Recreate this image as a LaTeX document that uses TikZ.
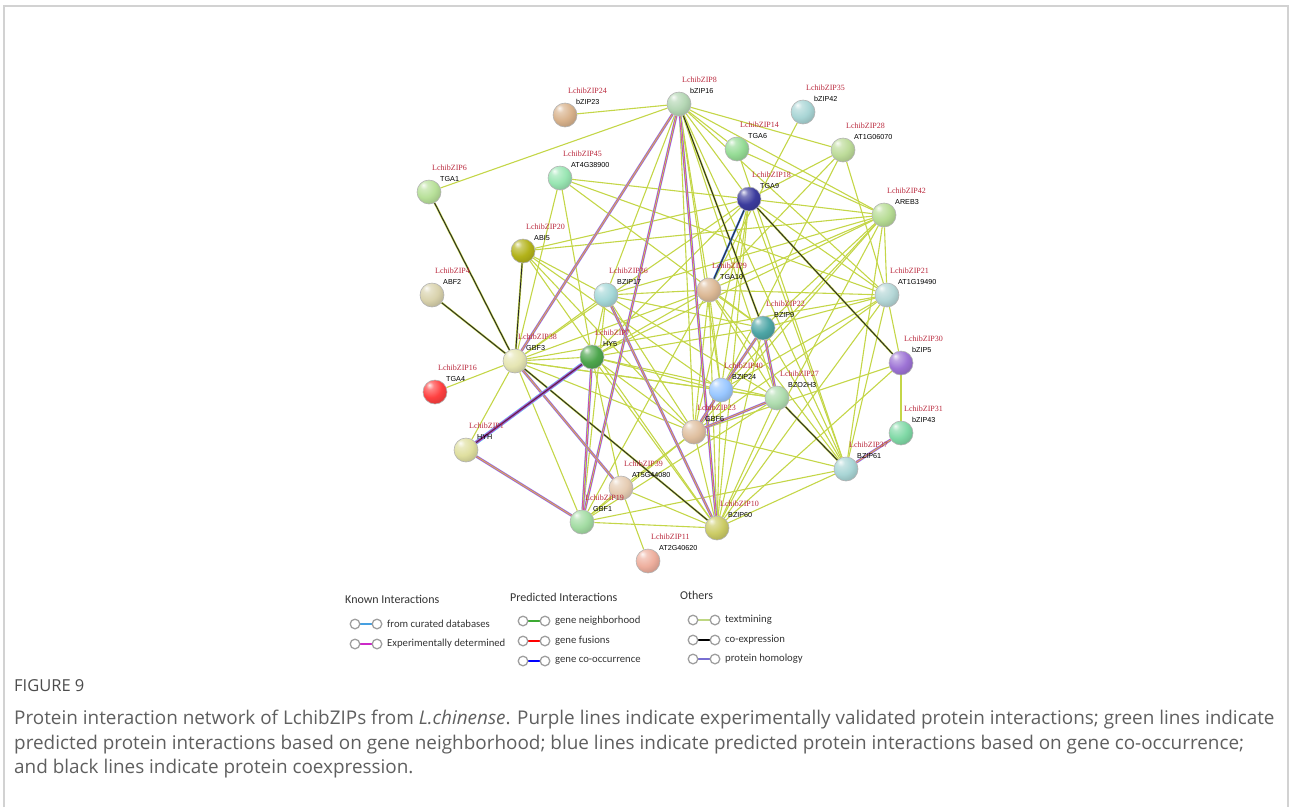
\documentclass[tikz,border=0pt]{standalone}
\usepackage{fontspec}
\setmainfont{Liberation Serif}
\newfontfamily\protfont{Liberation Sans}
\newfontfamily\legfont{Carlito}
\newfontfamily\capfont{Open Sans}
\usetikzlibrary{shadings}
\definecolor{tmgreen}{RGB}{196,214,72}
\definecolor{tmlight}{RGB}{190,215,130}
\definecolor{nbgreen}{RGB}{60,170,50}
\definecolor{exppink}{RGB}{205,40,200}
\definecolor{dbblue}{RGB}{70,160,225}
\definecolor{homol}{RGB}{120,110,210}
\definecolor{zipred}{RGB}{185,40,60}
\definecolor{framegray}{RGB}{210,210,210}
\definecolor{capgray}{RGB}{95,95,95}
\colorlet{sphcol}{gray}
% glossy sphere, rebuilt for every value of sphcol
\pgfdeclareradialshading[sphcol]{sphere}{\pgfpoint{-12bp}{15bp}}{%
  color(0bp)=(sphcol!10!white); color(8bp)=(sphcol!65!white);
  color(22bp)=(sphcol); color(38bp)=(sphcol!82!black); color(60bp)=(sphcol!60!black); color(75bp)=(sphcol!55!black)}
\pgfdeclarelayer{edges}
\pgfsetlayers{edges,main}
\tikzset{
  prot/.style={circle, draw=gray!60, line width=0.6pt, minimum size=24pt, inner sep=0pt, shading=sphere},
  ziplab/.style={text=zipred, font=\fontsize{8}{9}\selectfont, inner sep=0pt},
  genelab/.style={text=black, font=\protfont\fontsize{7.2}{8}\selectfont, inner sep=0pt},
  tm/.style={draw=tmgreen, line width=1.1pt},
  coex/.style={draw=tmgreen, double=black!85, double distance=0.9pt, line width=0.55pt},
  cooc/.style={draw=dbblue!70!blue, double=black!80, double distance=0.9pt, line width=0.55pt},
  expr/.style={preaction={draw=dbblue!60, line width=2.8pt}, draw=exppink, double=tmgreen, double distance=0.8pt, line width=0.6pt},
  bundle/.style={preaction={draw=cyan!60, line width=4pt}, draw=exppink, double=black!75, double distance=1pt, line width=0.8pt},
  legring/.style={draw=gray!75, line width=1.3pt},
  leghead/.style={font=\legfont\fontsize{12}{14}\selectfont, text=black!80, inner sep=0pt},
  legtext/.style={font=\legfont\fontsize{10.7}{12}\selectfont, text=black!80, inner sep=0pt}
}
\begin{document}
\begin{tikzpicture}[x=1pt, y=-1pt]
  \useasboundingbox (0,0) rectangle (1290,807);
  \draw[framegray, line width=1.2pt] (4,807) -- (4,6) -- (1288,6) -- (1288,807);
  % proteins
  \foreach \n/\x/\y/\c/\r/\b in {
    b16/679/104/green!30!gray!45!white/8/bZIP16,
    b23/565/115/brown!60!white/24/bZIP23,
    b42/803/112/cyan!35!gray!50!white/35/bZIP42,
    tga6/737/149/green!50!gray!55!white/14/TGA6,
    at106/843/150/green!30!olive!40!white/28/AT1G06070,
    tga1/429/192/green!40!olive!40!white/6/TGA1,
    at438/560/178/green!50!teal!40!white/45/AT4G38900,
    tga9/749/199/blue!45!gray!85!black/18/TGA9,
    areb3/884/215/green!35!olive!42!white/42/AREB3,
    abi5/523/251/olive!60!white/20/ABI5,
    abf2/432/295/brown!30!olive!35!white/4/ABF2,
    b17/606/295/cyan!40!gray!50!white/36/BZIP17,
    tga10/709/290/brown!55!white/9/TGA10,
    at119/887/295/cyan!30!gray!45!white/21/AT1G19490,
    b9/763/328/teal!70!white/22/BZIP9,
    gbf3/515/361/olive!20!white/38/GBF3,
    hy5/592/357/green!50!black!70!white/7/HY5,
    tga4/435/392/red!75!white/16/TGA4,
    b5/901/363/blue!40!violet!55!white/30/bZIP5,
    b24/721/390/cyan!45!blue!40!white/40/BZIP24,
    bzo/777/398/green!40!gray!45!white/27/BZO2H3,
    gbf6/694/432/brown!50!white/23/GBF6,
    hyh/466/450/olive!25!white/1/HYH,
    b43/901/433/green!40!teal!50!white/31/bZIP43,
    b61/846/469/cyan!35!gray!50!white/37/BZIP61,
    at544/621/488/brown!40!white/39/AT5G44080,
    gbf1/582/522/green!45!gray!50!white/19/GBF1,
    b60/717/528/olive!40!white/10/BZIP60,
    at240/648/561/red!40!brown!45!white/11/AT2G40620}
  {
    \colorlet{sphcol}{\c}
    \node[prot] (\n) at (\x,\y) {};
    \node[ziplab, anchor=west] at (\x+3,\y-24) {LchibZIP\r};
    \node[genelab, anchor=west] at (\x+11,\y-13) {\b};
  }
  % interactions
  \begin{pgfonlayer}{edges}
    \foreach \a/\b in {b16/b23, b16/tga1, b16/tga6, b16/at106, b16/tga9, b16/areb3,
      b16/at119, b16/tga10, b16/b24, b16/gbf6, b16/b17, b16/bzo, b16/b61,
      b42/tga10, tga6/areb3, tga6/b61, at106/tga9, at106/b24, at106/at119, at106/tga10,
      at438/tga9, at438/at119, at438/gbf3, at438/hy5, at438/b9,
      abi5/tga9, abi5/areb3, abi5/b24, abi5/gbf6, abi5/b60, abi5/b17,
      tga9/areb3, tga9/at119, tga9/b24, tga9/gbf6, tga9/b61, tga9/b60, tga9/gbf3, tga9/hy5,
      areb3/tga10, areb3/b17, areb3/b9, areb3/b24, areb3/at119, areb3/b61, areb3/b60, areb3/gbf6, areb3/hy5,
      at119/tga10, at119/b9, at119/b24, at119/b61, at119/b60, at119/b5, at119/gbf3, at119/gbf6,
      b17/tga10, b17/gbf3, b17/gbf6, b17/b9, b17/gbf1, b17/bzo, b17/hy5,
      tga10/b9, tga10/b24, tga10/gbf6, tga10/b60, tga10/b61, tga10/gbf3, tga10/hy5, tga10/gbf1, tga10/bzo,
      b9/gbf6, b9/b61, b9/b60, b9/hy5,
      gbf3/hy5, gbf3/b24, gbf3/gbf6, gbf3/gbf1, gbf3/hyh, gbf3/bzo, gbf3/tga4,
      hy5/gbf6, hy5/b24, hy5/at544, hy5/b60, hy5/bzo,
      b5/b43, b5/gbf6, b5/b60, b24/b60, b24/bzo, bzo/b60, bzo/gbf1,
      gbf6/b60, gbf6/gbf1, gbf6/b61, b61/b60, b61/gbf1,
      at544/at240, at544/b60, at544/gbf6, gbf1/b60, gbf1/at544}
      \draw[tm] (\a) -- (\b);
    \foreach \a/\b in {tga1/gbf3, abf2/gbf3, abi5/gbf3, gbf3/b60, b16/b9, tga9/b5, bzo/b61}
      \draw[coex] (\a) -- (\b);
    \draw[cooc] (tga9) -- (tga10);
    \foreach \a/\b in {b16/gbf3, b16/gbf1, b16/b60, hy5/gbf1, hyh/gbf1, gbf3/at544,
      b17/b60, b9/b24, b9/bzo, bzo/gbf6, b24/gbf6, b43/b61}
      \draw[expr] (\a) -- (\b);
    \draw[bundle] (hyh) -- (hy5);
  \end{pgfonlayer}
  % legend
  \node[leghead, anchor=west] at (345,599) {Known Interactions};
  \node[leghead, anchor=west] at (510,597) {Predicted Interactions};
  \node[leghead, anchor=west] at (680,595) {Others};
  \foreach \x/\y/\c/\t in {355/624/dbblue/from curated databases,
    355/644/exppink/Experimentally determined,
    523/621/nbgreen/gene neighborhood, 523/641/red/gene fusions,
    523/661/blue/gene co-occurrence, 693/620/tmlight/textmining,
    693/640/black/co-expression, 693/659/homol/protein homology}
  {
    \draw[\c, line width=2.2pt] (\x+5,\y) -- (\x+17,\y);
    \draw[legring] (\x,\y) circle (4.8pt);
    \draw[legring] (\x+22,\y) circle (4.8pt);
    \node[legtext, anchor=west] at (\x+32,\y) {\t};
  }
  % caption
  \node[anchor=west, inner sep=0pt, text=black!70, font=\capfont\fontsize{16.5}{18}\selectfont] at (14,686) {FIGURE 9};
  \node[anchor=north west, inner sep=0pt, align=left, text=capgray, font=\capfont\fontsize{18.9}{24.5}\selectfont] at (14,710)
    {Protein interaction network of LchibZIPs from \emph{L.chinense}. Purple lines indicate experimentally validated protein interactions; green lines indicate\\
     predicted protein interactions based on gene neighborhood; blue lines indicate predicted protein interactions based on gene co-occurrence;\\
     and black lines indicate protein coexpression.};
\end{tikzpicture}
\end{document}
